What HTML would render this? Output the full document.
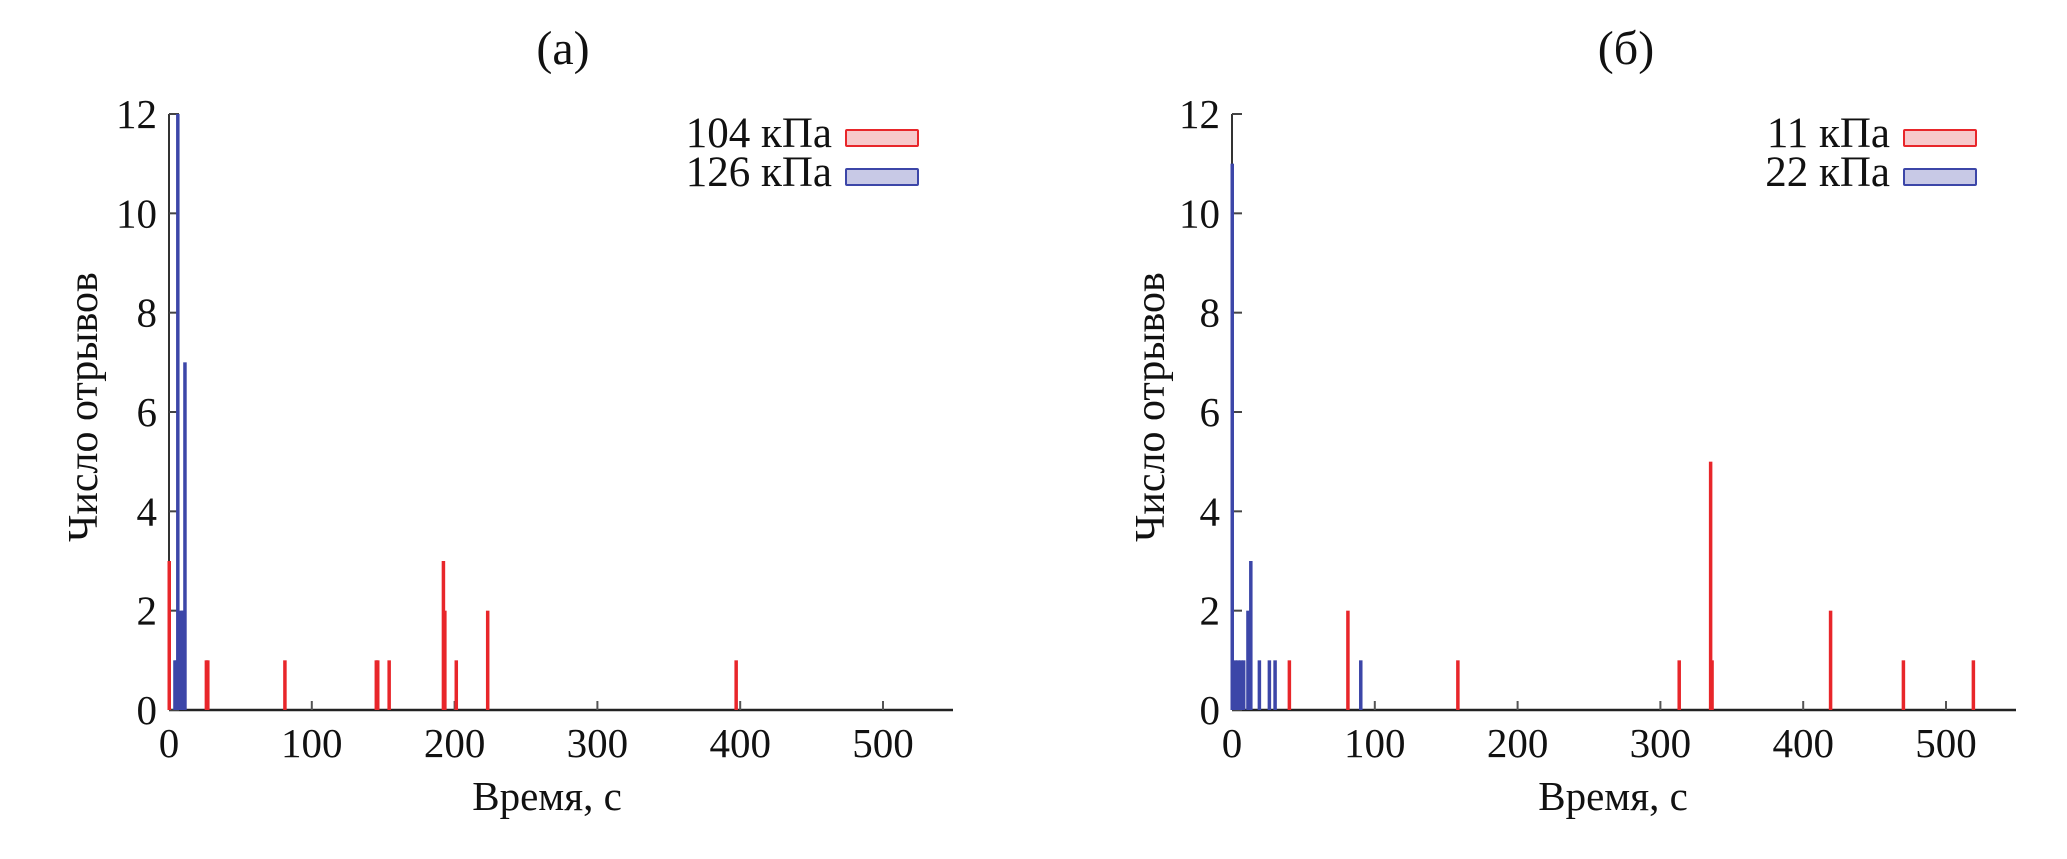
<!DOCTYPE html>
<html><head><meta charset="utf-8"><style>
html,body{margin:0;padding:0;background:#fff;}
svg text{font-family:"Liberation Serif",serif;fill:#111;}
</style></head><body>
<svg id="chart" width="2067" height="854" xmlns="http://www.w3.org/2000/svg"></svg>
<script>
const xTicks = [0,100,200,300,400,500];
const yTicks = [0,2,4,6,8,10,12];
const aRedX = [0,26,27,81,145,146,154,192,193,201,223,397];
const aRedY = [3,1,1,1,1,1,1,3,2,1,2,1];
const aBlueX = [4,5,6,8,9,10,11];
const aBlueY = [1,1,12,2,2,2,7];
const bRedX = [40,81,158,313,335,336,419,470,519];
const bRedY = [1,2,1,1,5,1,2,1,1];
const bBlueX = [0,2,4,6,8,11,13,19,26,30,90];
const bBlueY = [11,1,1,1,1,2,3,1,1,1,1];
const panels = [
  {name:'a', title:'(а)', tx:563, x0:169, xEnd:953, legend:['104 кПа','126 кПа'], legX:832, redX:aRedX, redY:aRedY, blueX:aBlueX, blueY:aBlueY},
  {name:'b', title:'(б)', tx:1626, x0:1232, xEnd:2016, legend:['11 кПа','22 кПа'], legX:1890, redX:bRedX, redY:bRedY, blueX:bBlueX, blueY:bBlueY}
];
const NS='http://www.w3.org/2000/svg';
const svg=document.getElementById('chart');
const y0=710, pxY=(710-114)/12, pxX=1.428;
function mk(tag,attrs,parent){const e=document.createElementNS(NS,tag);for(const k in attrs)e.setAttribute(k,attrs[k]);(parent||svg).appendChild(e);return e;}
panels.forEach(p=>{
  const g=mk('g',{});
  
  
  const sx=v=>p.x0+v*pxX, sy=v=>y0-v*pxY;
  const t=mk('text',{x:p.tx,y:64,'font-size':48,'text-anchor':'middle'},g);
  t.textContent=p.title;
  
  
  const xa=mk('line',{x1:p.x0,y1:y0,x2:p.xEnd,y2:y0,stroke:'#222','stroke-width':2.5},g);
  
  
  const ya=mk('line',{x1:p.x0,y1:y0,x2:p.x0,y2:sy(12),stroke:'#333','stroke-width':2},g);
  
  
  xTicks.forEach(v=>{
    const tk=mk('line',{x1:sx(v),y1:y0,x2:sx(v),y2:y0-9,stroke:'#555','stroke-width':2},g);
    
    
    const tl=mk('text',{x:sx(v),y:757,'font-size':41,'text-anchor':'middle'},g);
    tl.textContent=v;
    
    
  });
  yTicks.forEach(v=>{
    const tk=mk('line',{x1:p.x0,y1:sy(v),x2:p.x0+10,y2:sy(v),stroke:'#444','stroke-width':2},g);
    
    
    const tl=mk('text',{x:p.x0-12,y:sy(v)+14,'font-size':41,'text-anchor':'end'},g);
    tl.textContent=v;
    
    
  });
  const xt=mk('text',{x:p.name==='a'?547:1613,y:810,'font-size':41,'text-anchor':'middle'},g);
  xt.textContent='Время, с';
  
  
  const yx=p.name==='a'?83:1150;
  const yt=mk('text',{x:yx,y:407,'font-size':42,'text-anchor':'middle',transform:`rotate(-90 ${yx} 407)`,dy:14},g);
  yt.textContent='Число отрывов';
  
  
  p.redX.forEach((v,i)=>{
    const b=mk('rect',{x:sx(v)-1.5,y:sy(p.redY[i]),width:3.5,height:p.redY[i]*pxY,fill:'#e8262a'},g);
    
    
  });
  p.blueX.forEach((v,i)=>{
    const b=mk('rect',{x:sx(v)-1.5,y:sy(p.blueY[i]),width:3.5,height:p.blueY[i]*pxY,fill:'#3c46a8'},g);
    
    
  });
  const cols=[['#e8262a','#f7c9cb'],['#3c46a8','#c8c9e6']];
  p.legend.forEach((lab,i)=>{
    const ty=[147,186][i];
    const lt=mk('text',{x:p.legX,y:ty,'font-size':43,'text-anchor':'end'},g);
    lt.textContent=lab;
    
    
    const sw=mk('rect',{x:p.legX+14,y:ty-17,width:72,height:16,fill:cols[i][1],stroke:cols[i][0],'stroke-width':2,rx:1},g);
    
    
  });
});
</script>
</body></html>
